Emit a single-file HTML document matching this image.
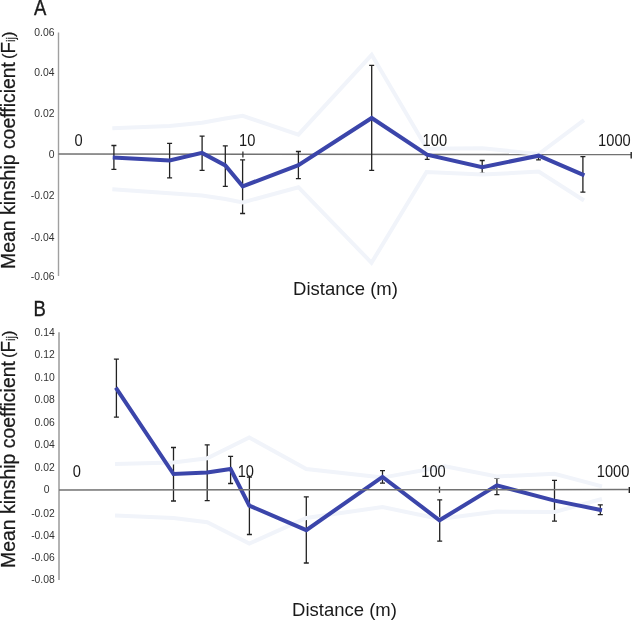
<!DOCTYPE html>
<html><head><meta charset="utf-8"><style>
html,body{margin:0;padding:0;background:#fff;}
body{width:632px;height:620px;overflow:hidden;}
svg{display:block;will-change:transform;font-family:"Liberation Sans",sans-serif;}
.tk{font-size:11.8px;fill:#333;}
.xl{font-size:15.6px;fill:#1a1a1a;}
.yl{font-size:19.8px;fill:#1a1a1a;stroke:#1a1a1a;stroke-width:0.25px;}
.dl{font-size:18.5px;fill:#1a1a1a;}
.pl{font-size:21.5px;fill:#1a1a1a;stroke:#1a1a1a;stroke-width:0.4px;}
.env{fill:none;stroke:#f1f4fa;stroke-width:4;stroke-linejoin:miter;}
.ln{fill:none;stroke:#3b45aa;stroke-width:4;stroke-linejoin:miter;}
.eb{stroke:#222;stroke-width:1.3;fill:none;}
</style></head><body>
<svg width="632" height="620" viewBox="0 0 632 620">
<line x1="58.5" y1="32.5" x2="58.5" y2="276" stroke="#a0a0a0" stroke-width="1.4"/>
<line x1="58.5" y1="153.9" x2="631" y2="154.6" stroke="#727272" stroke-width="1.5"/>
<line x1="242.9" y1="151.4" x2="242.9" y2="157.4" stroke="#333" stroke-width="1.3"/>
<line x1="631.2" y1="151.9" x2="631.2" y2="158.4" stroke="#222" stroke-width="1.4"/>
<g class="eb">
<path d="M113.9,145.5V169.3M111.4,145.5h5.0M111.4,169.3h5.0"/>
<path d="M169.6,143.4V177.8M167.1,143.4h5.0M167.1,177.8h5.0"/>
<path d="M202.1,136.1V170.3M199.6,136.1h5.0M199.6,170.3h5.0"/>
<path d="M225.3,145.8V186.3M222.8,145.8h5.0M222.8,186.3h5.0"/>
<path d="M242.6,159.8V213.5M240.1,159.8h5.0M240.1,213.5h5.0"/>
<path d="M298.4,151.5V178.6M295.9,151.5h5.0M295.9,178.6h5.0"/>
<path d="M371.7,65.3V170.3M369.2,65.3h5.0M369.2,170.3h5.0"/>
<path d="M427.2,153.5V159.3M424.8,159.3h4.8"/>
<path d="M482.2,160.5V173.1M479.7,160.5h5.0M479.7,173.1h5.0"/>
<path d="M538.5,153.7V159.8M536.1,159.8h4.8"/>
<path d="M582.9,156.6V192.1M580.4,156.6h5.0M580.4,192.1h5.0"/>
</g>
<polyline class="env" points="112.3,128.3 169.6,126.1 202,122.7 225.3,118.5 242.7,115.8 298.4,134.7 371.7,54.8 427,148.8 482.5,148.3 538.7,154 584,120.2"/>
<polyline class="env" points="112.3,189.3 169.6,193.3 202,195.6 225.3,199 242.7,202.4 298.4,187.2 371.5,262.8 426.5,172 482.5,174.6 538.7,171.6 584,200.5"/>
<polyline class="ln" points="112.7,157.4 169.6,160.5 202,152.9 225.3,165.4 242.7,186.3 298.4,165.2 371.7,118 427,154.6 482.2,167.1 538.7,155.7 584.4,175.3"/>
<g transform="translate(34.0,15) scale(0.86,1)"><text class="pl" x="0" y="0" text-anchor="start">A</text></g>
<text class="yl" transform="translate(14.8,268.9) rotate(-90)" textLength="206.9" lengthAdjust="spacingAndGlyphs">Mean kinship coefficient</text>
<text class="yl" transform="translate(14.8,58.9) rotate(-90)" textLength="27.4" lengthAdjust="spacingAndGlyphs"><tspan font-size="17.4" dy="-1.1">(</tspan><tspan dy="1.1">F</tspan><tspan font-size="12">ij</tspan><tspan font-size="17.4" dy="-1.1">)</tspan></text>
<g transform="translate(54.5,36.3) scale(0.88,1)"><text class="tk" x="0" y="0" text-anchor="end">0.06</text></g>
<g transform="translate(54.5,75.9) scale(0.88,1)"><text class="tk" x="0" y="0" text-anchor="end">0.04</text></g>
<g transform="translate(54.5,117.1) scale(0.88,1)"><text class="tk" x="0" y="0" text-anchor="end">0.02</text></g>
<g transform="translate(54.5,158.0) scale(0.88,1)"><text class="tk" x="0" y="0" text-anchor="end">0</text></g>
<g transform="translate(54.5,199.2) scale(0.88,1)"><text class="tk" x="0" y="0" text-anchor="end">-0.02</text></g>
<g transform="translate(54.5,240.6) scale(0.88,1)"><text class="tk" x="0" y="0" text-anchor="end">-0.04</text></g>
<g transform="translate(54.5,279.9) scale(0.88,1)"><text class="tk" x="0" y="0" text-anchor="end">-0.06</text></g>
<g transform="translate(74.4,145.8) scale(0.94,1)"><text class="xl" x="0" y="0" text-anchor="start">0</text></g>
<g transform="translate(239,145.8) scale(0.94,1)"><text class="xl" x="0" y="0" text-anchor="start">10</text></g>
<g transform="translate(422.6,145.8) scale(0.94,1)"><text class="xl" x="0" y="0" text-anchor="start">100</text></g>
<g transform="translate(598.1,145.8) scale(0.94,1)"><text class="xl" x="0" y="0" text-anchor="start">1000</text></g>
<text class="dl" x="293.1" y="294.7" text-anchor="start">Distance (m)</text>
<line x1="59.0" y1="332.3" x2="59.0" y2="580" stroke="#b3b3b3" stroke-width="2.0"/>
<line x1="439.5" y1="486.7" x2="439.5" y2="492.8" stroke="#333" stroke-width="1.3"/>
<line x1="629.3" y1="487" x2="629.3" y2="493" stroke="#222" stroke-width="1.4"/>
<g class="eb">
<path d="M116.4,359.1V417.1M113.9,359.1h5.0M113.9,417.1h5.0"/>
<path d="M173.5,447.5V501M171.0,447.5h5.0M171.0,501h5.0"/>
<path d="M207.2,444.8V500.6M204.7,444.8h5.0M204.7,500.6h5.0"/>
<path d="M230.6,456.3V483.5M228.1,456.3h5.0M228.1,483.5h5.0"/>
<path d="M249.4,477.2V534.5M246.9,477.2h5.0M246.9,534.5h5.0"/>
<path d="M306.3,496.8V563M303.8,496.8h5.0M303.8,563h5.0"/>
<path d="M382.5,470.6V483.2M380.0,470.6h5.0M380.0,483.2h5.0"/>
<path d="M439.7,499.8V541.1M437.2,499.8h5.0M437.2,541.1h5.0"/>
<path d="M496.9,478V494.7M494.4,478h5.0M494.4,494.7h5.0"/>
<path d="M554.5,480.3V521.2M552.0,480.3h5.0M552.0,521.2h5.0"/>
<path d="M600.3,504.8V514.6M597.8,504.8h5.0M597.8,514.6h5.0"/>
</g>
<polyline class="env" points="115,464 173.5,462.5 207.2,458.3 249.3,437.5 306.3,469 382.5,477.6 445,466.3 496.9,476.4 554.5,473.7 602,486.4"/>
<polyline class="env" points="115,515.5 173.5,518 207.2,522.2 249.3,543.6 306.3,518 382.5,507 439.5,519 496.9,511.6 554.5,512 602,499"/>
<polyline class="ln" points="115.8,387.6 173.5,474 207.2,472.6 230.6,469 249.3,505.6 306.3,530.1 382.5,476.9 439.5,520.3 496.9,485.4 554.5,500.6 602,510.2"/>
<line x1="59.0" y1="489.9" x2="629" y2="489.6" stroke="#727272" stroke-width="1.5"/>
<g transform="translate(33.6,315.8) scale(0.86,1)"><text class="pl" x="0" y="0" text-anchor="start">B</text></g>
<text class="yl" transform="translate(14.6,568.0) rotate(-90)" textLength="206.9" lengthAdjust="spacingAndGlyphs">Mean kinship coefficient</text>
<text class="yl" transform="translate(14.6,358.0) rotate(-90)" textLength="27.4" lengthAdjust="spacingAndGlyphs"><tspan font-size="17.4" dy="-1.1">(</tspan><tspan dy="1.1">F</tspan><tspan font-size="12">ij</tspan><tspan font-size="17.4" dy="-1.1">)</tspan></text>
<g transform="translate(54.8,335.88) scale(0.88,1)"><text class="tk" x="0" y="0" text-anchor="end">0.14</text></g>
<g transform="translate(54.8,358.34) scale(0.88,1)"><text class="tk" x="0" y="0" text-anchor="end">0.12</text></g>
<g transform="translate(54.8,380.8) scale(0.88,1)"><text class="tk" x="0" y="0" text-anchor="end">0.10</text></g>
<g transform="translate(54.8,403.26) scale(0.88,1)"><text class="tk" x="0" y="0" text-anchor="end">0.08</text></g>
<g transform="translate(54.8,425.72) scale(0.88,1)"><text class="tk" x="0" y="0" text-anchor="end">0.06</text></g>
<g transform="translate(54.8,448.18) scale(0.88,1)"><text class="tk" x="0" y="0" text-anchor="end">0.04</text></g>
<g transform="translate(54.8,470.64) scale(0.88,1)"><text class="tk" x="0" y="0" text-anchor="end">0.02</text></g>
<g transform="translate(49.6,492.7) scale(0.88,1)"><text class="tk" x="0" y="0" text-anchor="end">0</text></g>
<g transform="translate(54.8,516.7) scale(0.88,1)"><text class="tk" x="0" y="0" text-anchor="end">-0.02</text></g>
<g transform="translate(54.8,539.3) scale(0.88,1)"><text class="tk" x="0" y="0" text-anchor="end">-0.04</text></g>
<g transform="translate(54.8,560.7) scale(0.88,1)"><text class="tk" x="0" y="0" text-anchor="end">-0.06</text></g>
<g transform="translate(54.8,583.4) scale(0.88,1)"><text class="tk" x="0" y="0" text-anchor="end">-0.08</text></g>
<g transform="translate(72.8,477.0) scale(0.94,1)"><text class="xl" x="0" y="0" text-anchor="start">0</text></g>
<g transform="translate(237.7,476.6) scale(0.94,1)"><text class="xl" x="0" y="0" text-anchor="start">10</text></g>
<g transform="translate(421.3,477.2) scale(0.94,1)"><text class="xl" x="0" y="0" text-anchor="start">100</text></g>
<g transform="translate(596.8,476.9) scale(0.94,1)"><text class="xl" x="0" y="0" text-anchor="start">1000</text></g>
<text class="dl" x="292.1" y="616.2" text-anchor="start">Distance (m)</text>
</svg>
</body></html>
